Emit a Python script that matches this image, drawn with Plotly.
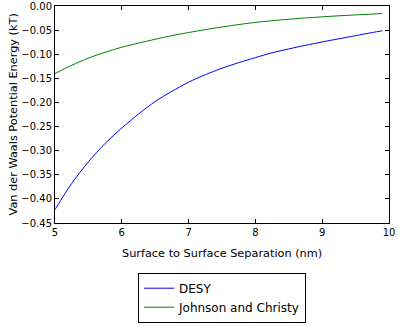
# Van der Waals potential energy vs surface separation
import plotly.graph_objs as go

# Data
separation = [5.0, 5.25, 5.5, 5.75, 6.0, 6.25, 6.5, 6.75, 7.0, 7.25, 7.5, 7.75,
              8.0, 8.25, 8.5, 8.75, 9.0, 9.25, 9.5, 9.75, 9.9]
desy = [-0.422, -0.368, -0.323, -0.285, -0.253, -0.224, -0.198, -0.177, -0.158, -0.1425,
        -0.129, -0.1175, -0.107, -0.097, -0.089, -0.0815, -0.0745, -0.068, -0.0615, -0.055, -0.0515]
johnson_christy = [-0.140, -0.123, -0.108, -0.096, -0.0855, -0.077, -0.069, -0.0615, -0.055, -0.049,
                   -0.0435, -0.0385, -0.034, -0.0305, -0.0275, -0.0248, -0.0225, -0.0203, -0.0185,
                   -0.0167, -0.0157]

x_title = "Surface to Surface Separation (nm)"
y_title = "Van der Waals Potential Energy (kT)"

font_family = "DejaVu Sans"

# Create the traces
data = [
  go.Scatter(
    x = separation,
    y = desy,
    name = "DESY",
    mode = "lines",
    line = dict(color = "#0000ff", width = 1, shape = "spline", smoothing = 0.8)
  ),
  go.Scatter(
    x = separation,
    y = johnson_christy,
    name = "Johnson and Christy",
    mode = "lines",
    line = dict(color = "#008000", width = 1, shape = "spline", smoothing = 0.8)
  )
]

axis_style = dict(
  showline = True,
  linecolor = "black",
  linewidth = 1,
  mirror = "ticks",
  ticks = "inside",
  ticklen = 4,
  tickcolor = "black",
  showgrid = False,
  zeroline = False,
  automargin = False,
  ticklabeloverflow = "allow",
  tickfont = dict(family = font_family, size = 10, color = "black")
)

# Axis titles as annotations so they sit exactly where the reference has them
title_font = dict(family = font_family, size = 11.3, color = "black")
annotations = [
  dict(text = x_title, xref = "paper", yref = "paper", x = 0.5, y = -0.14,
       xanchor = "center", yanchor = "middle", showarrow = False, font = title_font),
  dict(text = y_title, xref = "paper", yref = "paper", x = -0.123, y = 0.5,
       xanchor = "center", yanchor = "middle", textangle = -90, showarrow = False, font = title_font)
]

# Create the layout
layout = go.Layout(
  width = 402,
  height = 329,
  margin = dict(l = 55, r = 13, t = 6, b = 100),
  paper_bgcolor = "white",
  plot_bgcolor = "white",
  font = dict(family = font_family, color = "black"),
  xaxis = dict(axis_style, range = [5, 10], dtick = 1),
  yaxis = dict(axis_style, range = [-0.45, 0], dtick = 0.05, tickformat = ".2f"),
  annotations = annotations,
  showlegend = True,
  legend = dict(
    x = 0.5,
    xanchor = "center",
    y = -0.229,
    yanchor = "top",
    bordercolor = "black",
    borderwidth = 1,
    font = dict(family = font_family, size = 12, color = "black"),
    tracegroupgap = 0
  )
)

# Build the figure
fig = go.Figure(data = data, layout = layout)

# Save the plot (drop the default page margin so the figure sits at the top-left)
fig.write_html("out.html", config = {"displayModeBar": False},
               post_script = "document.body.style.margin = '0';")
